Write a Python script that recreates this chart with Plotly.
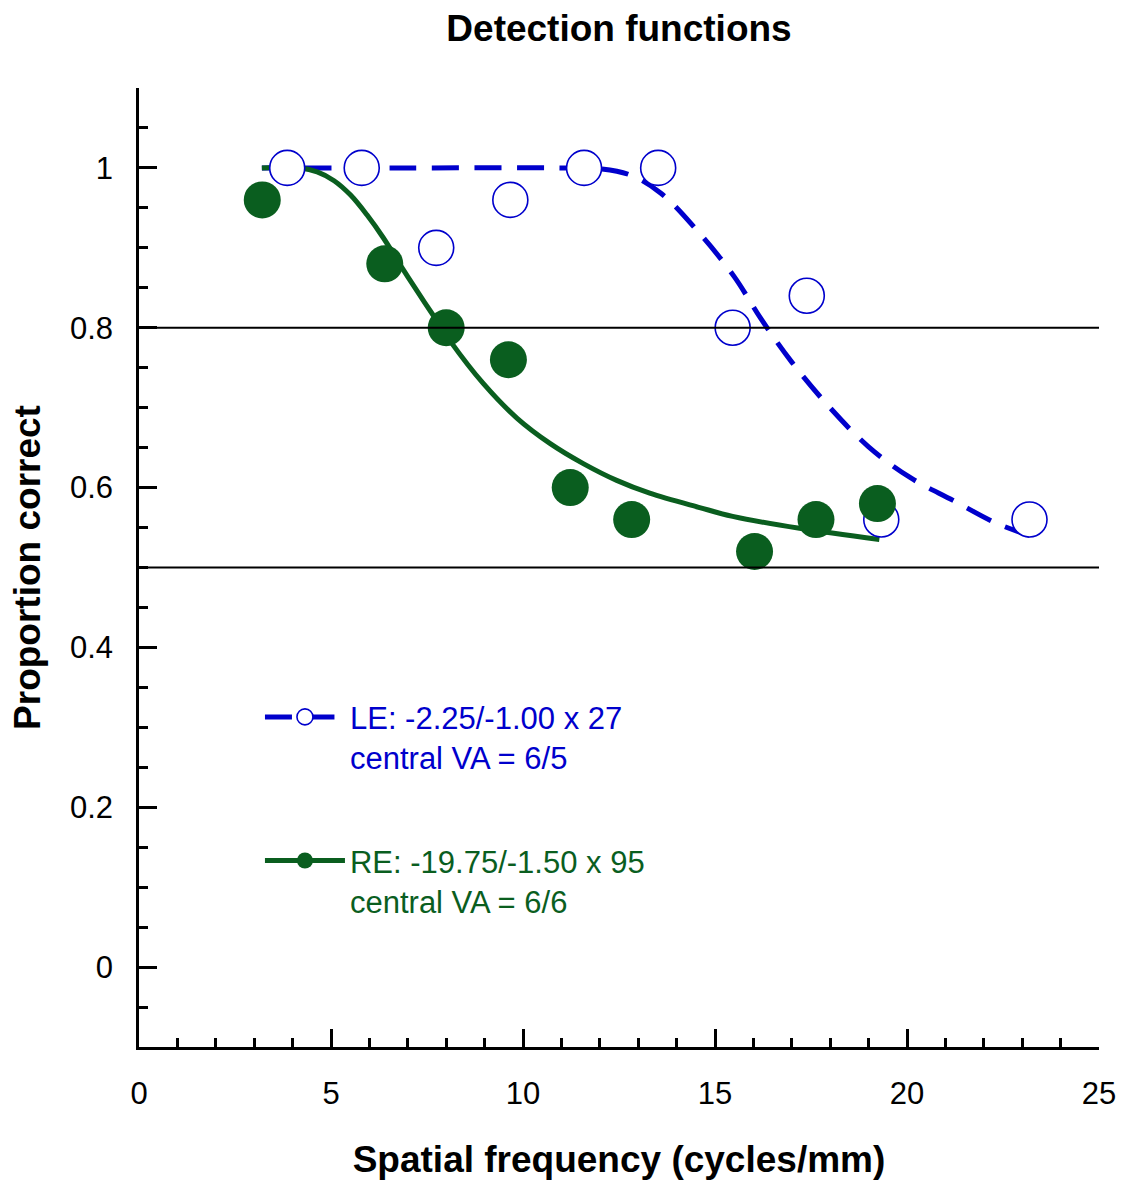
import plotly.graph_objects as go

# ---- data ----
le_x = [3.86, 5.80, 7.74, 9.67, 11.59, 13.52, 15.46, 17.39, 19.33, 23.19]
le_y = [1.00, 1.00, 0.90, 0.96, 1.00, 1.00, 0.80, 0.84, 0.56, 0.56]

re_x = [3.21, 6.40, 8.00, 9.62, 11.23, 12.83, 16.03, 17.63, 19.23]
re_y = [0.96, 0.88, 0.80, 0.76, 0.60, 0.56, 0.52, 0.56, 0.58]

le_fit_x = [3.2, 7.0, 11.0, 12.0, 12.8, 13.6, 14.6, 15.5, 16.2, 17.0, 17.9, 19.0, 20.1, 21.2, 22.3, 23.2]
le_fit_y = [1.0, 1.0, 1.0, 0.999, 0.991, 0.968, 0.918, 0.864, 0.811, 0.757, 0.705, 0.651, 0.612, 0.584, 0.556, 0.540]

re_fit_x = [3.2, 4.2, 4.64, 5.08, 5.51, 5.94, 6.37, 6.81, 7.24, 7.67, 8.11, 8.97, 9.84,
            10.71, 11.57, 12.44, 13.3, 14.6, 15.46, 17.2, 19.28]
re_fit_y = [1.0, 1.0, 0.995, 0.984, 0.966, 0.941, 0.912, 0.878, 0.846, 0.815, 0.783, 0.730, 0.687,
            0.655, 0.630, 0.609, 0.593, 0.575, 0.564, 0.549, 0.535]

criterion_levels = [0.8, 0.5]

le_label = ["LE: -2.25/-1.00 x 27", "central VA = 6/5"]
re_label = ["RE: -19.75/-1.50 x 95", "central VA = 6/6"]

x_tickvals = [0, 5, 10, 15, 20, 25]
y_tickvals = [0, 0.2, 0.4, 0.6, 0.8, 1.0]
y_ticktext = ["0", "0.2", "0.4", "0.6", "0.8", "1"]

# ---- styles ----
BLUE = "#0000CC"
GREEN = "#0A5E1F"
FONT = "Liberation Sans, Arial, sans-serif"
LE_DASH = "27px,15.5px"


def colored(lines, color):
    return "<br>".join(f"<span style='color:{color}'>{t}</span>" for t in lines)


fig = go.Figure()

# fitted curves
fig.add_trace(go.Scatter(x=le_fit_x, y=le_fit_y, mode="lines",
                         line=dict(color=BLUE, width=5, dash=LE_DASH, shape="spline"),
                         showlegend=False, hoverinfo="skip"))
fig.add_trace(go.Scatter(x=re_fit_x, y=re_fit_y, mode="lines",
                         line=dict(color=GREEN, width=5, shape="spline"),
                         showlegend=False, hoverinfo="skip"))

# data points
fig.add_trace(go.Scatter(x=le_x, y=le_y, mode="markers",
                         marker=dict(size=35, color="white", line=dict(color=BLUE, width=1.6)),
                         showlegend=False))
fig.add_trace(go.Scatter(x=re_x, y=re_y, mode="markers",
                         marker=dict(size=37, color=GREEN, line=dict(width=0)),
                         showlegend=False))

# legend-only entries
fig.add_trace(go.Scatter(x=[None], y=[None], mode="lines+markers",
                         name=colored(le_label, BLUE), legendgroup="le",
                         line=dict(color=BLUE, width=5, dash=LE_DASH),
                         marker=dict(size=35, color="white", line=dict(color=BLUE, width=1.6))))
fig.add_trace(go.Scatter(x=[None], y=[None], mode="lines+markers",
                         name=colored(re_label, GREEN), legendgroup="re",
                         line=dict(color=GREEN, width=5),
                         marker=dict(size=37, color=GREEN)))

for lvl in criterion_levels:
    fig.add_hline(y=lvl, line=dict(color="black", width=2), layer="above")

fig.update_layout(
    width=1124, height=1182,
    margin=dict(l=139, r=25, t=87.5, b=134.5, autoexpand=False),
    paper_bgcolor="white", plot_bgcolor="white",
    font=dict(family=FONT, size=31, color="black"),
    title=dict(text="<b>Detection functions</b>", x=0.5, xref="paper", xanchor="center",
               y=1 - 28 / 1182, yref="container", yanchor="middle",
               font=dict(size=37, family=FONT, color="black")),
    showlegend=True,
    legend=dict(x=0.126, y=0.372, xanchor="left", yanchor="top",
                bgcolor="rgba(0,0,0,0)", borderwidth=0,
                font=dict(size=31, family=FONT),
                itemwidth=80, valign="top", tracegroupgap=60,
                itemsizing="trace"),
)

fig.update_xaxes(
    range=[0, 25], showgrid=False, zeroline=False, automargin=False,
    showline=True, linecolor="black", linewidth=2.5,
    ticks="inside", ticklen=18, tickwidth=2.5, tickcolor="black",
    tickvals=x_tickvals, ticklabelstandoff=17,
    minor=dict(dtick=1, tick0=0, ticks="inside", ticklen=9, tickwidth=2.5, tickcolor="black"),
    title=dict(text="<b>Spatial frequency (cycles/mm)</b>", standoff=37,
               font=dict(size=37, family=FONT, color="black")),
)
fig.update_yaxes(
    range=[-0.1, 1.1], showgrid=False, zeroline=False, automargin=False,
    showline=True, linecolor="black", linewidth=2.5,
    ticks="inside", ticklen=18, tickwidth=2.5, tickcolor="black",
    tickvals=y_tickvals, ticktext=y_ticktext, ticklabelstandoff=17,
    minor=dict(dtick=0.05, tick0=0, ticks="inside", ticklen=9, tickwidth=2.5, tickcolor="black"),
    title=dict(text="<b>Proportion correct</b>", standoff=18,
               font=dict(size=37, family=FONT, color="black")),
)

post = (
    "document.body.style.margin='0';"
    "document.body.style.overflow='hidden';"
)

fig.write_html("out.html", config={"displayModeBar": False}, post_script=post)
